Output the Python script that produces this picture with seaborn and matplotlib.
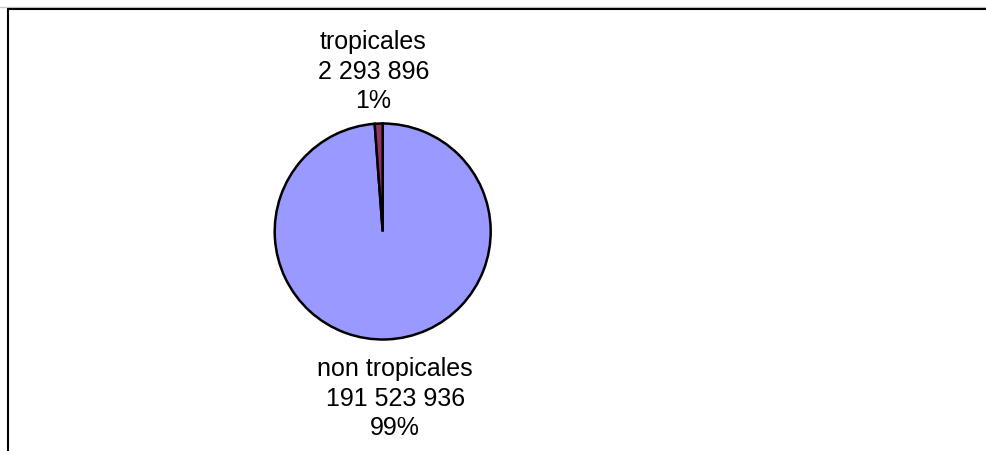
import numpy as np
import pandas as pd
import matplotlib.pyplot as plt
import seaborn as sns
from matplotlib.lines import Line2D

categories = ["non tropicales", "tropicales"]
counts = [191523936, 2293896]
pct_labels = ["99%", "1%"]
colors = ["#9999FF", "#993366"]

sns.set_theme(style="white")
plt.rcParams['font.family'] = ['Liberation Sans', 'DejaVu Sans']

df = pd.DataFrame({"cat": categories, "n": counts, "pct": pct_labels})
palette = sns.color_palette(colors)

fig = plt.figure(figsize=(9.86, 4.52), dpi=100)
fig.patch.set_facecolor("white")

# pie centre ~ (382.7, 232.5) px, radius ~108 px
r_px = 108
cx, cy = 382.7, 452 - 232.5
ax = fig.add_axes([(cx - 1.25 * r_px) / 986, (cy - 1.25 * r_px) / 452,
                   2.5 * r_px / 986, 2.5 * r_px / 452])

def fmt(v):
    return f"{v:,}".replace(",", " ")

labels = [f"{c}\n{fmt(n)}\n{p}" for c, n, p in zip(df.cat, df.n, df.pct)]
wedges, texts = ax.pie(df.n, labels=labels, colors=palette, startangle=90,
                       counterclock=False, labeldistance=1.52,
                       wedgeprops=dict(edgecolor="black", linewidth=1.8),
                       textprops=dict(fontsize=18, color="black"))
for t in texts:
    t.set_ha("center")
    t.set_va("center")
    t.set_multialignment("center")
    t.set_linespacing(1.3)
# nudge labels a little, as in the original layout
x0, y0 = texts[0].get_position()
texts[0].set_position((x0 + 0.06, y0 - 0.02))
x1, y1 = texts[1].get_position()
texts[1].set_position((x1 - 0.03, y1 - 0.03))
ax.set_xlim(-1.25, 1.25)
ax.set_ylim(-1.25, 1.25)
ax.set_aspect("equal")
ax.axis("off")

# outer frame (top and left edges only visible)
fig.add_artist(Line2D([0, 1], [1 - 7.5 / 452, 1 - 7.5 / 452], color="#c8c8c8", lw=1.0))
fig.add_artist(Line2D([7.5 / 986, 1], [1 - 9.5 / 452, 1 - 9.5 / 452], color="black", lw=1.5))
fig.add_artist(Line2D([7.5 / 986, 7.5 / 986], [0, 1 - 9.5 / 452], color="black", lw=1.5))

fig.savefig("out.png", dpi=100, facecolor="white")
